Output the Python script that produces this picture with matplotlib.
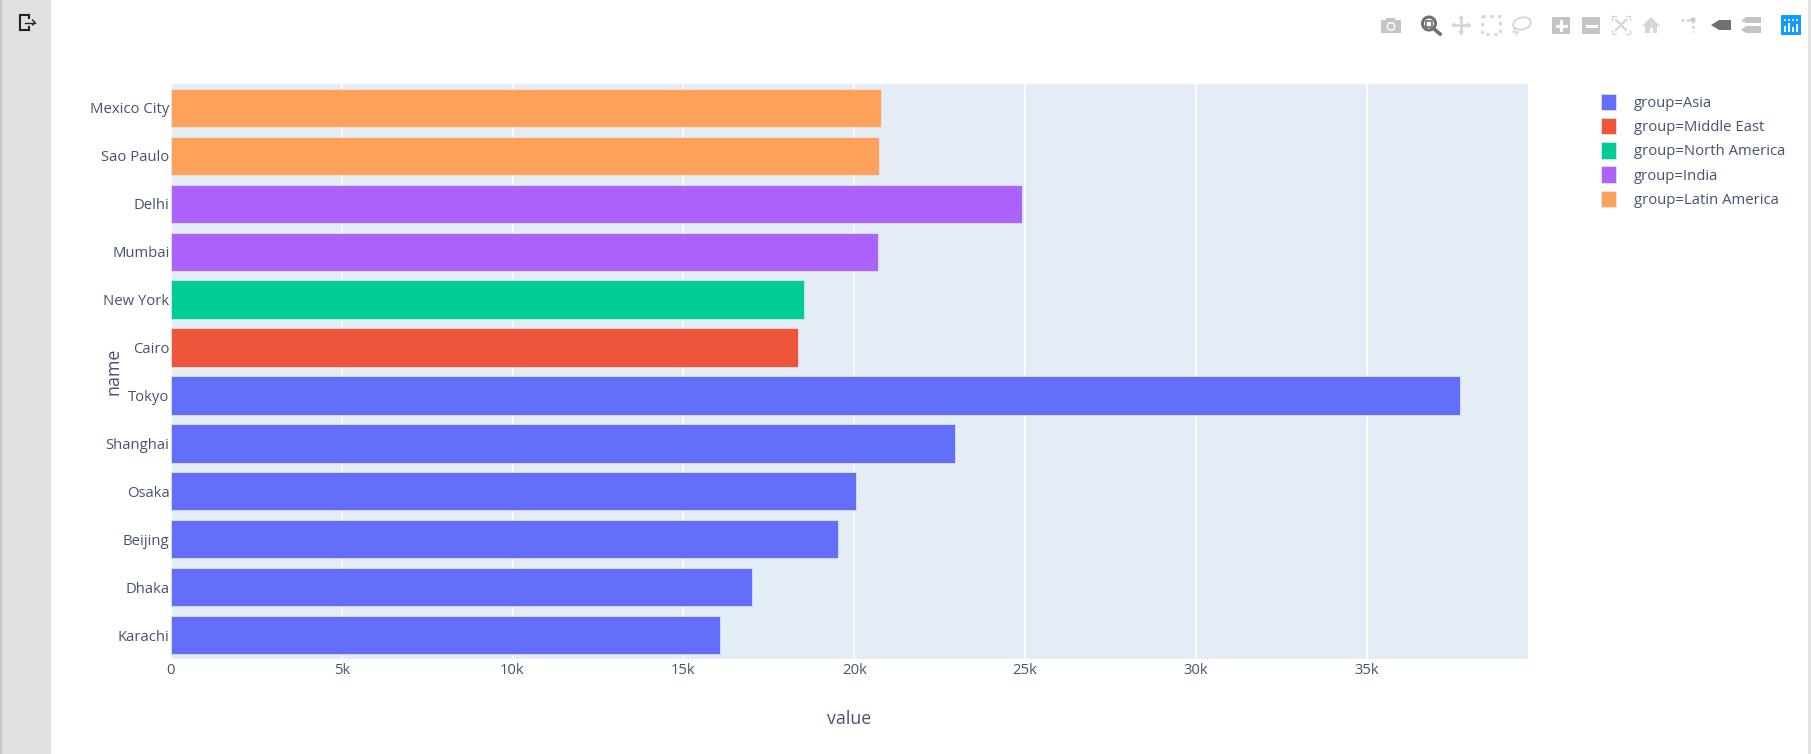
import matplotlib
matplotlib.use("Agg")
import matplotlib.pyplot as plt
from matplotlib.patches import Rectangle, Circle, Polygon, Ellipse
from matplotlib.ticker import FuncFormatter

# values, bottom row first
names = ["Karachi", "Dhaka", "Beijing", "Osaka", "Shanghai", "Tokyo",
         "Cairo", "New York", "Mumbai", "Delhi", "Sao Paulo", "Mexico City"]
values = [16.07e3, 17.0e3, 19.52e3, 20.05e3, 22.95e3, 37.72e3,
          18.36e3, 18.52e3, 20.69e3, 24.9e3, 20.74e3, 20.79e3]
groups = ["Asia", "Asia", "Asia", "Asia", "Asia", "Asia",
          "Middle East", "North America", "India", "India",
          "Latin America", "Latin America"]
group_order = ["Asia", "Middle East", "North America", "India", "Latin America"]
group_colors = ["#636efa", "#ef553b", "#00cc96", "#ab63fa", "#ffa15a"]
x_ticks = [0, 5000, 10000, 15000, 20000, 25000, 30000, 35000]

W, H = 1811, 754
TEXT = "#44536f"
ICON = "#c4c4c4"
ICON_PALE = "#d6d6d6"
ICON_DARK = "#707070"
PLOT_BG = "#e4ecf5"
plt.rcParams["font.family"] = ["Open Sans", "DejaVu Sans"]

fig = plt.figure(figsize=(W / 100, H / 100), dpi=100, facecolor="white")

# overlay in pixel coordinates for the page furniture and modebar
page = fig.add_axes([0, 0, 1, 1], zorder=0)
page.set_xlim(0, W)
page.set_ylim(H, 0)
page.axis("off")
page.add_patch(Rectangle((0, 0), 51, H, fc="#e0e0e0", ec="none"))
page.add_patch(Rectangle((0, 0), 1.5, H, fc="#c6c6c6", ec="none"))
page.add_patch(Rectangle((1808, 0), 3, H, fc="#e2e2e2", ec="none"))

# exit icon in the sidebar
page.plot([29, 20, 20, 29], [15, 15, 29.5, 29.5], color="#222222", lw=1.5,
          solid_joinstyle="miter")
page.plot([29, 29], [15, 18], color="#222222", lw=1.5)
page.plot([29, 29], [26.5, 29.5], color="#222222", lw=1.5)
page.plot([25, 35], [22.5, 22.5], color="#222222", lw=1)
page.plot([32.5, 35, 32.5], [20, 22.5, 25], color="#222222", lw=1)

# modebar
page.add_patch(Rectangle((1381, 20), 20, 13, fc=ICON, ec="none"))
page.add_patch(Rectangle((1386, 17.5), 9, 3, fc=ICON, ec="none"))
page.add_patch(Circle((1391, 26.5), 4.5, fc="white", ec="none"))
page.add_patch(Circle((1391, 26.5), 3, fc=ICON, ec="none"))
page.add_patch(Circle((1429, 23.5), 6.5, fc="white", ec=ICON_DARK, lw=2.2))
page.add_patch(Rectangle((1426, 20.5), 6, 6, fc="white", ec=ICON_DARK, lw=1.2))
page.plot([1434, 1440], [29, 34], color=ICON_DARK, lw=2.6)
page.plot([1453, 1469], [25, 25], color=ICON_PALE, lw=2)
page.plot([1461, 1461], [17, 33], color=ICON_PALE, lw=2)
for tip in [((1451, 25), (1455, 22), (1455, 28)), ((1471, 25), (1467, 22), (1467, 28)),
            ((1461, 15), (1458, 19), (1464, 19)), ((1461, 35), (1458, 31), (1464, 31))]:
    page.add_patch(Polygon(tip, fc=ICON_PALE, ec="none"))
page.add_patch(Rectangle((1482, 16), 18, 18, fc="none", ec=ICON_PALE, lw=2, ls=(0, (1.2, 1.6))))
page.add_patch(Ellipse((1522, 23.5), 18, 12, angle=-15, fc="none", ec=ICON_PALE, lw=1.3))
page.plot([1516, 1513, 1518, 1516], [28, 32, 32, 35], color=ICON_PALE, lw=1.1)

for x0, plus in [(1552, True), (1582, False)]:
    page.add_patch(Rectangle((x0, 17), 18, 17, fc=ICON, ec="none"))
    page.plot([x0 + 4.5, x0 + 13.5], [25.5, 25.5], color="white", lw=2.2)
    if plus:
        page.plot([x0 + 9, x0 + 9], [21, 30], color="white", lw=2.2)

for cx, cy, dx, dy in [(1612, 16, 1, 1), (1630, 16, -1, 1), (1612, 34, 1, -1), (1630, 34, -1, -1)]:
    page.plot([cx + 4 * dx, cx, cx], [cy, cy, cy + 4 * dy], color=ICON_PALE, lw=0.9)
page.plot([1616, 1626], [20, 30], color=ICON_PALE, lw=1.6)
page.plot([1626, 1616], [20, 30], color=ICON_PALE, lw=1.6)

page.add_patch(Polygon([(1642, 26), (1651, 17), (1660, 26)], fc=ICON_PALE, ec="none"))
page.add_patch(Rectangle((1645, 26), 12, 7, fc=ICON_PALE, ec="none"))
page.add_patch(Rectangle((1649.5, 28), 3, 5, fc="white", ec="none"))

page.plot([1681, 1693], [20, 20], color=ICON_PALE, lw=2, ls=(0, (1, 1)))
page.plot([1693, 1693], [20, 32], color=ICON_PALE, lw=2, ls=(0, (1, 1)))
page.add_patch(Circle((1693, 20), 2.5, fc=ICON, ec="none"))

page.add_patch(Polygon([(1711, 25), (1719, 20), (1731, 20), (1731, 30), (1719, 30)],
                       fc=ICON_DARK, ec="none"))
page.add_patch(Polygon([(1741, 21), (1746, 17), (1761, 17), (1761, 23), (1746, 23)], fc=ICON, ec="none"))
page.add_patch(Polygon([(1741, 30), (1746, 26), (1761, 26), (1761, 33), (1746, 33)], fc=ICON, ec="none"))

page.add_patch(Rectangle((1781, 15), 20, 20, fc="#119dff", ec="none"))
for bx, top in [(1784.5, 26), (1788.5, 23), (1792.5, 27), (1796.5, 24)]:
    page.plot([bx, bx], [top, 32], color="white", lw=1.4, solid_capstyle="butt")
    page.plot([bx, bx], [19, 20.5], color="white", lw=1.1, solid_capstyle="butt")

# main plot area, 170.85..1528 x 84..659 px
ax = fig.add_axes([170.85 / W, 1 - 659 / H, (1528 - 170.85) / W, (659 - 84) / H], zorder=1)
ax.set_facecolor(PLOT_BG)
ax.set_axisbelow(True)
for spine in ax.spines.values():
    spine.set_visible(False)

handles = []
for group, color in zip(group_order, group_colors):
    ys = [i for i, g in enumerate(groups) if g == group]
    vals = [values[i] for i in ys]
    ax.barh(ys, vals, height=0.8, color=color, edgecolor=PLOT_BG, linewidth=0.5,
            clip_on=False)
    handles.append(Rectangle((0, 0), 1, 1, fc=color, ec=PLOT_BG, lw=0.5,
                             label=f"group={group}"))

ax.set_xlim(0, 39720)
ax.set_ylim(-0.5, 11.5)
ax.set_yticks(range(len(names)))
ax.set_yticklabels(names)
ax.set_xticks(x_ticks)
ax.xaxis.set_major_formatter(FuncFormatter(lambda v, _: "0" if v == 0 else f"{v / 1000:.0f}k"))
ax.grid(axis="x", color="white", lw=1.2)
ax.tick_params(axis="x", length=0, pad=3, labelsize=10.7, labelcolor=TEXT)
ax.tick_params(axis="y", length=0, pad=1, labelsize=10.7, labelcolor=TEXT)

fig.text(849 / W, 1 - 719 / H, "value", ha="center", va="center", fontsize=12.8, color=TEXT)
fig.text(114 / W, 1 - 371 / H, "name", ha="center", va="center", rotation=90,
         fontsize=12.8, color=TEXT)

fig.legend(handles=handles, loc="upper left", bbox_to_anchor=(1601 / W, 1 - 93.5 / H),
           frameon=False, fontsize=10.7, labelcolor=TEXT, handlelength=1.0, handleheight=1.35,
           handletextpad=1.2, labelspacing=0.47, borderpad=0, borderaxespad=0)

fig.savefig("out.png", dpi=100)
